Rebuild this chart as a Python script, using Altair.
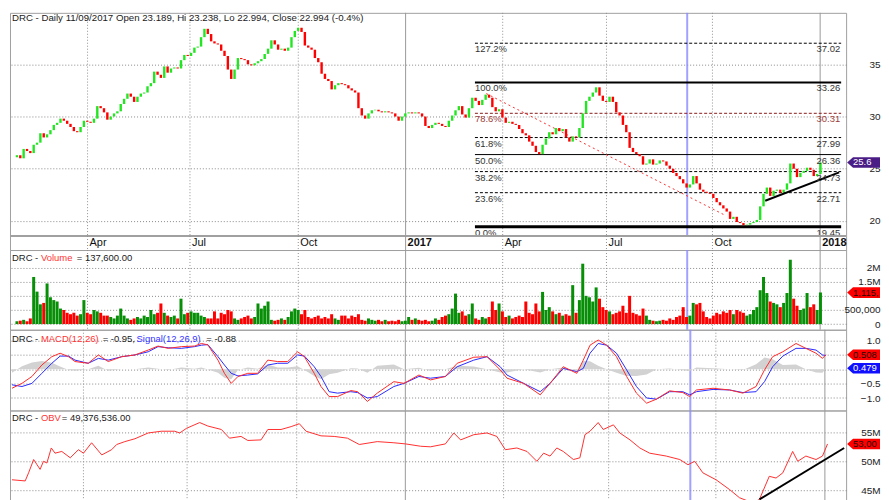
import altair as alt
import pandas as pd

# ---------------- data ----------------
# one candle per ~2 trading days, index 0..240
closes = [
    26.3, 26.0, 26.9, 26.7, 26.5, 27.3, 27.5, 28.4, 28.0, 28.3,
    28.7, 29.2, 29.4, 29.8, 29.6, 29.3, 29.0, 28.6, 28.5, 29.0,
    29.6, 29.5, 29.4, 29.8, 31.0, 30.8, 30.4, 29.7, 30.0, 30.3,
    30.5, 31.2, 31.7, 32.2, 31.9, 31.4, 31.9, 32.2, 32.3, 32.9,
    33.2, 34.3, 34.0, 33.7, 34.8, 34.2, 34.6, 34.7, 34.6, 35.4,
    35.9, 35.8, 36.1, 36.6, 36.7, 37.6, 38.4, 37.9, 37.2, 37.0,
    36.9, 36.3, 35.8, 34.5, 33.6, 34.5, 35.6, 35.5, 35.4, 35.0,
    34.9, 35.1, 35.3, 35.5, 36.0, 36.5, 37.3, 36.9, 36.4, 36.5,
    36.3, 36.6, 37.6, 38.2, 38.5, 38.1, 36.8, 36.6, 36.4, 35.6,
    35.2, 34.1, 33.6, 33.4, 32.6, 33.0, 33.2, 33.1, 33.0, 32.7,
    32.5, 32.3, 30.8, 30.1, 29.8, 30.3, 30.6, 30.65, 30.5, 30.4,
    30.5, 30.4, 30.3, 30.0, 29.6, 30.0, 30.3, 30.4, 30.3, 30.4,
    30.3, 30.0, 29.1, 28.9, 29.2, 29.4, 29.3, 29.1, 29.0, 29.6,
    30.1, 30.6, 31.0, 30.2, 29.9, 30.8, 31.8, 31.5, 31.1, 31.6,
    32.1, 31.8, 30.9, 30.5, 30.7, 29.9, 29.4, 29.5, 29.3, 29.2,
    28.8, 28.4, 28.2, 27.6, 27.2, 26.6, 26.4, 27.3, 27.9, 28.5,
    28.3, 28.9, 28.6, 28.8, 28.0, 27.6, 28.1, 28.0, 28.9, 30.3,
    31.5, 31.9, 32.3, 32.8, 32.0, 31.5, 31.4, 31.9, 31.4, 30.4,
    30.1, 29.2, 28.5, 27.0, 26.6, 26.4, 26.2, 25.4, 25.5, 25.9,
    25.4, 25.5, 25.8, 25.7, 25.3, 25.0, 24.6, 24.3, 24.0, 23.6,
    23.2, 23.5, 24.3, 23.6, 23.0, 22.8, 22.7, 22.6, 22.2, 21.8,
    21.5, 21.2, 20.9, 20.2, 20.4, 19.9, 19.8, 19.6, 19.65, 19.8,
    19.9, 20.1, 21.4, 22.6, 23.2, 22.4, 22.9, 23.0, 22.7, 23.0,
    23.6, 25.5, 25.0, 24.2, 24.6, 24.8, 25.1, 24.9, 24.3, 24.5, 25.6,
]
first_open = 26.1

# volume in millions of shares
volumes_m = [
    0.10, 0.12, 0.15, 0.10, 0.20, 1.67, 1.15, 0.70, 0.75, 1.44,
    0.95, 0.85, 0.80, 0.55, 0.50, 0.40, 0.35, 0.40, 0.30, 0.35,
    0.85, 0.40, 0.35, 0.50, 0.45, 0.40, 0.30, 0.30, 0.25, 0.20,
    0.30, 0.55, 0.30, 0.20, 0.15, 0.20, 0.25, 0.20, 0.30, 0.25,
    0.50, 0.35, 0.40, 0.73, 0.40, 0.30, 0.25, 0.30, 0.20, 0.90,
    0.35, 0.40, 0.45, 0.40, 0.40, 0.30, 0.25, 0.20, 0.20, 0.45,
    0.20, 0.40, 0.35, 0.50, 0.45, 0.20, 0.15, 0.20, 0.25, 0.30,
    0.20, 0.25, 0.73, 0.55, 0.65, 0.80, 0.15, 0.12, 0.15, 0.20,
    0.15, 0.25, 0.45, 0.55, 0.50, 0.35, 0.50, 0.25, 0.20, 0.25,
    0.30, 0.20, 0.25, 0.20, 0.35, 0.20, 0.15, 0.30, 0.30, 0.20,
    0.30, 0.25, 0.35, 0.15, 0.12, 0.20, 0.15, 0.12, 0.15, 0.10,
    0.15, 0.10, 0.12, 0.10, 0.15, 0.10, 0.12, 0.25, 0.15, 0.20,
    0.15, 0.12, 0.15, 0.10, 0.12, 0.20, 0.15, 0.25, 0.30, 0.35,
    0.55, 1.08, 0.40, 0.45, 0.30, 0.35, 0.73, 0.20, 0.15, 0.25,
    0.20, 0.25, 0.80, 0.50, 0.73, 0.45, 0.25, 0.30, 0.20, 0.25,
    0.30, 0.25, 0.80, 0.40, 0.35, 0.73, 0.45, 1.14, 0.50, 0.60,
    0.45, 0.35, 0.40, 0.30, 0.35, 0.30, 1.38, 0.40, 0.85, 2.14,
    1.00, 0.95, 0.80, 1.30, 0.90, 0.60, 0.50, 0.45, 0.35, 0.40,
    0.45, 0.65, 0.40, 1.00, 0.40, 0.35, 0.30, 0.55, 0.30, 0.15,
    0.12, 0.10, 0.12, 0.15, 0.12, 0.20, 0.15, 0.25, 0.30, 0.60,
    0.25, 0.30, 0.75, 0.70, 0.75, 0.45, 0.25, 0.20, 0.30, 0.40,
    0.35, 0.45, 0.40, 0.50, 0.35, 0.50, 0.45, 0.40, 0.30, 0.35,
    0.50, 0.60, 1.20, 1.67, 1.10, 0.80, 0.75, 0.70, 0.60, 0.75,
    1.10, 2.28, 0.90, 0.65, 0.50, 0.55, 1.10, 0.60, 0.70, 0.50, 1.12,
]

macd_x = [0.0, 2.94, 5.88, 8.82, 11.76, 14.2, 16.7, 18.6, 22.5, 25.5,
          28.4, 32.4, 36.3, 40.2, 43.1, 46.1, 50.0, 53.9, 55.9, 57.8,
          60.8, 62.7, 64.7, 66.7, 69.6, 72.5, 75.5, 78.4, 81.4, 84.3,
          86.3, 89.2, 91.2, 93.6, 96.1, 100.0, 102.0, 104.9, 107.8, 112.7,
          115.7, 120.1, 123.5, 127.9, 131.4, 136.3, 140.2, 144.1, 146.1, 151.0,
          155.9, 158.8, 162.7, 166.7, 168.6, 170.6, 173.0, 175.5, 178.4, 181.4,
          184.3, 187.3, 190.2, 194.1, 198.0, 200.0, 202.0, 206.9, 211.8, 215.7,
          219.6, 222.1, 224.5, 227.5, 231.4, 234.3, 237.3, 239.2, 240.2]
macd_line = [-0.66, -0.49, -0.25, 0.15, 0.44, 0.56, 0.44, 0.27, 0.21, 0.50,
             0.27, 0.44, 0.50, 0.67, 0.81, 0.73, 0.79, 0.81, 0.90, 0.85,
             0.32, -0.14, -0.49, -0.25, -0.14, -0.14, 0.32, 0.27, 0.27, 0.61,
             0.44, -0.14, -0.60, -0.95, -0.95, -0.74, -0.78, -1.12, -0.83, -0.43,
             -0.49, -0.20, -0.37, -0.25, 0.21, 0.42, 0.44, -0.02, -0.31, -0.49,
             -0.89, -0.49, 0.09, -0.14, 0.32, 0.84, 1.02, 0.84, 0.44, -0.25,
             -0.83, -1.18, -1.04, -0.75, -0.81, -0.95, -0.72, -0.66, -0.72, -0.83,
             -0.60, -0.02, 0.44, 0.61, 0.90, 0.73, 0.56, 0.38, 0.50887]
signal_line = [-0.54, -0.60, -0.49, -0.14, 0.21, 0.46, 0.46, 0.32, 0.21, 0.38,
               0.32, 0.44, 0.50, 0.61, 0.79, 0.75, 0.73, 0.79, 0.84, 0.86,
               0.44, 0.15, -0.14, -0.23, -0.20, -0.16, 0.15, 0.21, 0.21, 0.50,
               0.46, 0.09, -0.25, -0.78, -0.83, -0.78, -0.81, -1.00, -0.95, -0.60,
               -0.49, -0.25, -0.31, -0.25, 0.09, 0.32, 0.44, 0.09, -0.20, -0.49,
               -0.78, -0.49, 0.03, -0.08, 0.03, 0.56, 0.90, 0.84, 0.56, -0.02,
               -0.60, -1.00, -1.04, -0.78, -0.78, -0.89, -0.78, -0.70, -0.72, -0.81,
               -0.78, -0.43, 0.09, 0.46, 0.73, 0.73, 0.67, 0.50, 0.47982]

obv_x = [0.0, 3.9, 4.9, 6.4, 7.4, 8.3, 9.3, 10.3, 11.6, 12.7,
         14.7, 17.2, 19.6, 21.1, 23.5, 26.5, 29.4, 30.9, 33.3, 36.3,
         40.2, 44.1, 48.0, 49.5, 51.5, 55.4, 57.8, 61.8, 64.2, 67.6,
         69.6, 73.5, 75.5, 79.4, 82.4, 84.8, 86.8, 91.2, 95.1, 99.0,
         102.5, 107.8, 112.7, 116.2, 120.6, 123.5, 127.9, 130.4, 132.4, 136.3,
         140.2, 143.1, 145.6, 149.0, 152.0, 154.9, 156.9, 158.8, 160.8, 162.7,
         165.7, 167.6, 169.1, 170.6, 173.0, 174.5, 177.5, 179.4, 182.4, 185.3,
         188.2, 193.1, 197.1, 199.5, 201.5, 203.9, 207.8, 211.8, 214.7, 218.6,
         220.6, 223.5, 225.5, 227.5, 230.4, 231.9, 234.3, 237.3, 239.2, 240.7]
obv_m = [46.8, 46.6, 48.0, 50.3, 49.4, 48.6, 50.0, 49.7, 52.3, 51.4,
         51.7, 50.6, 52.0, 51.4, 53.2, 51.1, 52.0, 52.9, 53.4, 53.9,
         54.9, 55.2, 55.2, 54.9, 55.7, 56.7, 56.1, 55.5, 54.0, 54.3,
         53.6, 53.7, 55.5, 55.5, 56.0, 56.5, 55.2, 54.4, 54.3, 54.0,
         52.9, 53.4, 53.2, 53.0, 52.6, 52.5, 53.0, 54.9, 53.7, 54.6,
         54.9, 54.3, 52.0, 52.3, 51.7, 50.0, 51.4, 50.9, 52.3, 51.7,
         50.3, 50.6, 54.6, 55.2, 56.7, 55.5, 56.3, 54.9, 53.7, 52.3,
         51.4, 50.9, 50.3, 49.4, 50.0, 48.0, 46.8, 45.1, 43.7, 42.8,
         43.4, 47.4, 47.1, 48.0, 51.7, 50.0, 50.9, 50.3, 50.9, 53.0]

month_pos = [21.09, 51.68, 84.03, 116.09, 145.09, 176.09, 207.74, 239.91]
month_lab = ["Apr", "Jul", "Oct", "2017", "Apr", "Jul", "Oct", "2018"]
month_kind = ["m", "m", "m", "y", "m", "m", "m", "y"]

fib_pct = ["127.2%", "100.0%", "78.6%", "61.8%", "50.0%", "38.2%", "23.6%", "0.0%"]
fib_val = [37.02, 33.26, 30.31, 27.99, 26.36, 24.73, 22.71, 19.45]
fib_lbl = ["37.02", "33.26", "30.31", "27.99", "26.36", "24.73", "22.71", "19.45"]
fib_kind = ["dash", "solid", "dash", "dash", "solid", "dash", "dash", "solid"]
fib_width = [1, 2, 1, 1, 1, 1, 1, 3]
fib_color = ["#000000", "#000000", "#8b1a1a", "#000000", "#000000", "#000000", "#000000", "#000000"]
fib_text_color = ["#333333", "#333333", "#9b3b3b", "#333333", "#333333", "#333333", "#333333", "#333333"]
fib_start = 136.8
fib_end = 246.18

trend_price_x = [223.5, 245.6]
trend_price_y = [21.94, 24.65]
red_diag_x = [140.2, 211.8]
red_diag_y = [32.2, 20.5]
trend_obv_x = [220.6, 245.6]
trend_obv_y = [43.4, 52.3]
cursor_i = 200.2

last_price = 25.6
last_volume_m = 1.11504
last_macd = 0.50887
last_signal = 0.47982
last_obv_m = 53.0072

# ---------------- build ----------------
W = 839
FONT = "Liberation Sans"
NARROW = "Liberation Sans Narrow, Arial Narrow, Liberation Sans"
UP, DOWN, VUP = "#22e622", "#ff0000", "#078f07"
GRID = "#8a8a8a"
X_DOMAIN = [-0.588, 246.18]
PRICE_BOTTOM = 18.56      # bottom of the candle area; below it is the date strip
STRIP_BOTTOM = 17.22
STRIP_LABEL = 17.98       # vertical middle of the date strip

n = len(closes)
opens = [first_open] + closes[:-1]
df = pd.DataFrame({"i": list(range(n)), "open": opens, "close": closes, "vol": volumes_m})
df["ccol"] = [UP if c >= o else DOWN for o, c in zip(opens, closes)]
df["vcol"] = [VUP if c >= o else DOWN for o, c in zip(opens, closes)]

xs = alt.Scale(domain=X_DOMAIN, nice=False, zero=False)


def yaxis(values, label_expr=None):
    kw = dict(orient="right", values=values, grid=True, gridDash=[1, 2], gridColor=GRID,
              domain=False, ticks=False, tickSize=0, labelPadding=34, labelAlign="right",
              labelFontSize=10, labelColor="#222222", title=None, labelFont=FONT,
              labelBound=False, labelFlush=False, labelOverlap=False)
    if label_expr:
        kw["labelExpr"] = label_expr
    return alt.Axis(**kw)


class Panel:
    def __init__(self, yscale, yax):
        self.ys, self.ya = yscale, yax

    def X(self, field="x"):
        return alt.X(f"{field}:Q", scale=xs, axis=None)

    def Y(self, field):
        return alt.Y(f"{field}:Q", scale=self.ys, axis=self.ya)


mdf = pd.DataFrame({"x": month_pos, "lab": month_lab, "kind": month_kind,
                    "y0": PRICE_BOTTOM, "y1": STRIP_BOTTOM, "ly": STRIP_LABEL})


def month_rules(p, cursor=True):
    dotted = alt.Chart(mdf[mdf.kind == "m"]).mark_rule(color="#909090", strokeDash=[1, 2], strokeWidth=1).encode(x=p.X())
    solid = alt.Chart(mdf[mdf.kind == "y"]).mark_rule(color="#9a9a9a", strokeWidth=1).encode(x=p.X())
    out = [dotted, solid]
    if cursor:
        out.append(alt.Chart(pd.DataFrame({"x": [cursor_i]})).mark_rule(
            color="#8a8aff", strokeWidth=2, opacity=0.8).encode(x=p.X()))
    return out


def text_seg(txt, px, py, color="#1a1a1a", size=9.5):
    return alt.Chart(pd.DataFrame({"a": [0]})).mark_text(
        text=txt, align="left", baseline="middle", font=FONT, fontSize=size, color=color
    ).encode(x=alt.value(px), y=alt.value(py))


TAG_PATH = "M-1,0L-0.64,-0.32L1,-0.32L1,0.32L-0.64,0.32Z"


def tag(p, value, color, txt, txt_color, py_pixel=None):
    d = pd.DataFrame({"v": [value], "t": [txt]})
    yenc = alt.value(py_pixel) if py_pixel is not None else p.Y("v")
    shape = alt.Chart(d).mark_point(shape=TAG_PATH, size=1089, filled=True, fill=color, opacity=1,
                                    strokeWidth=0).encode(x=alt.value(856.5), y=yenc)
    label = alt.Chart(d).mark_text(align="left", baseline="middle", font=FONT, fontSize=9.5, color=txt_color,
                                   limit=27, ellipsis="\u200b").encode(x=alt.value(846), y=yenc, text="t:N")
    return [shape, label]


# ---------- price panel (candles + date strip) ----------
py = alt.Scale(domain=[STRIP_BOTTOM, 39.93], nice=False, zero=False)
P = Panel(py, yaxis([20, 25, 30, 35]))

fdf = pd.DataFrame({"x0": [fib_start] * 8, "x1": [fib_end] * 8, "v": fib_val, "pct": fib_pct, "lbl": fib_lbl,
                    "kind": fib_kind, "w": fib_width, "col": fib_color, "tcol": fib_text_color})
fib_dash = alt.Chart(fdf[fdf.kind == "dash"]).mark_rule(strokeDash=[3, 2]).encode(
    x=P.X("x0"), x2="x1:Q", y=P.Y("v"),
    color=alt.Color("col:N", scale=None), strokeWidth=alt.StrokeWidth("w:Q", scale=None))
fib_solid = alt.Chart(fdf[fdf.kind == "solid"]).mark_rule().encode(
    x=P.X("x0"), x2="x1:Q", y=P.Y("v"),
    color=alt.Color("col:N", scale=None), strokeWidth=alt.StrokeWidth("w:Q", scale=None))
fib_left = alt.Chart(fdf).mark_text(align="left", baseline="top", dy=1, font=FONT, fontSize=9.5).encode(
    x=P.X("x0"), y=P.Y("v"), text="pct:N", color=alt.Color("tcol:N", scale=None))
fib_right = alt.Chart(fdf).mark_text(align="right", baseline="top", dy=1, dx=-1, font=FONT, fontSize=9.5).encode(
    x=P.X("x1"), y=P.Y("v"), text="lbl:N", color=alt.Color("tcol:N", scale=None))

red_diag = alt.Chart(pd.DataFrame({"x": red_diag_x, "y": red_diag_y})).mark_line(
    color="#ff3030", strokeDash=[2, 3], strokeWidth=1).encode(x=P.X(), y=P.Y("y"))
trend_p = alt.Chart(pd.DataFrame({"x": trend_price_x, "y": trend_price_y})).mark_line(
    color="#000000", strokeWidth=2).encode(x=P.X(), y=P.Y("y"))

candles = alt.Chart(df).mark_bar(width=2.4).encode(
    x=P.X("i"), y=P.Y("open"), y2="close:Q", color=alt.Color("ccol:N", scale=None))

strip_df = pd.DataFrame({"x0": [X_DOMAIN[0]], "x1": [X_DOMAIN[1]], "y0": [PRICE_BOTTOM], "y1": [STRIP_BOTTOM]})
strip_bg = alt.Chart(strip_df).mark_rect(color="white").encode(x=P.X("x0"), x2="x1:Q", y=P.Y("y0"), y2="y1:Q")
strip_line = alt.Chart(strip_df).mark_rule(color="#a0a0a0", strokeWidth=2).encode(y=P.Y("y0"))
strip_ticks_m = alt.Chart(mdf[mdf.kind == "m"]).mark_rule(color="#909090", strokeDash=[1, 2]).encode(
    x=P.X(), y=P.Y("y0"), y2="y1:Q")
strip_ticks_y = alt.Chart(mdf[mdf.kind == "y"]).mark_rule(color="#9a9a9a").encode(
    x=P.X(), y=P.Y("y0"), y2="y1:Q")
date_m = alt.Chart(mdf[mdf.kind == "m"]).mark_text(
    align="left", baseline="middle", dx=2, dy=1, font=NARROW, fontSize=11, color="#111111").encode(
    x=P.X(), y=P.Y("ly"), text="lab:N")
date_y = alt.Chart(mdf[mdf.kind == "y"]).mark_text(
    align="left", baseline="middle", dx=2, dy=1, font=NARROW, fontSize=11, fontWeight="bold",
    color="#111111").encode(x=P.X(), y=P.Y("ly"), text="lab:N")

price = alt.layer(
    *month_rules(P), fib_dash, fib_solid, red_diag, candles, trend_p, fib_left, fib_right,
    strip_bg, strip_line, strip_ticks_m, strip_ticks_y, date_m, date_y,
    text_seg("DRC - Daily 11/09/2017 Open 23.189, Hi 23.238, Lo 22.994, Close 22.994 (-0.4%)", 2, 5, size=9.7),
    *tag(P, last_price, "#4a1c86", "25.6", "#ffffff"),
).properties(width=W, height=238)

# ---------- volume panel ----------
vy = alt.Scale(domain=[-0.201, 2.625], nice=False, zero=False)
V = Panel(vy, yaxis([0, 0.5, 1, 1.5, 2],
                    "datum.value == 0 ? '0' : datum.value == 0.5 ? '500,000' : datum.value == 1 ? '' : datum.value + 'M'"))
vbars = alt.Chart(df).mark_bar(width=3).encode(
    x=V.X("i"), y=V.Y("vol"), y2=alt.datum(0), color=alt.Color("vcol:N", scale=None))
volume = alt.layer(
    *month_rules(V), vbars,
    text_seg("DRC -", 2, 8), text_seg("Volume", 31, 8, "#ff3333"), text_seg("= 137,600.00", 67, 8),
    *tag(V, last_volume_m, "#ff0000", "1,115,040", "#2a0000"),
).properties(width=W, height=80)

# ---------- MACD panel ----------
my = alt.Scale(domain=[-1.434, 1.378], nice=False, zero=False)
M = Panel(my, yaxis([-1, -0.5, 0, 0.5, 1],
                    "datum.value == 0 || datum.value == 0.5 ? '' : format(datum.value, '.1f')"))
mdf2 = pd.DataFrame({"x": macd_x, "m": macd_line, "s": signal_line})
mdf2["h"] = mdf2["m"] - mdf2["s"]
hist = alt.Chart(mdf2).mark_area(color="#d2d2d2").encode(x=M.X(), y=M.Y("h"), y2=alt.datum(0))
sig = alt.Chart(mdf2).mark_line(color="#2a2aff", strokeWidth=1).encode(x=M.X(), y=M.Y("s"))
mac = alt.Chart(mdf2).mark_line(color="#ff2a2a", strokeWidth=1).encode(x=M.X(), y=M.Y("m"))
macd = alt.layer(
    *month_rules(M), hist, sig, mac,
    text_seg("DRC -", 2, 9), text_seg("MACD(12,26)", 31, 9, "#ff3333"), text_seg("= -0.95,", 93, 9),
    text_seg("Signal(12,26,9)", 127, 9, "#3333ff"), text_seg("= -0.88", 197, 9),
    *tag(M, last_macd, "#ff0000", "0.50887", "#2a0000"),
    *tag(M, last_signal, "#1010ff", "0.47982", "#ffffff", py_pixel=38.7),
).properties(width=W, height=81)

# ---------- OBV panel ----------
oy = alt.Scale(domain=[43.10, 58.79], nice=False, zero=False)
O = Panel(oy, yaxis([45, 50, 55], "datum.value + 'M'"))
odf = pd.DataFrame({"x": obv_x, "v": obv_m})
obv_line = alt.Chart(odf).mark_line(color="#ff3030", strokeWidth=1, clip=True).encode(x=O.X(), y=O.Y("v"))
trend_o = alt.Chart(pd.DataFrame({"x": trend_obv_x, "y": trend_obv_y})).mark_line(
    color="#000000", strokeWidth=2).encode(x=O.X(), y=O.Y("y"))
obv = alt.layer(
    *month_rules(O), obv_line, trend_o,
    text_seg("DRC -", 2, 8), text_seg("OBV", 31, 8, "#ff3333"), text_seg("= 49,376,536.00", 52, 8),
    *tag(O, last_obv_m, "#ff0000", "53,007,236", "#2a0000"),
).properties(width=W, height=91)

chart = alt.vconcat(price, volume, macd, obv, spacing=0, bounds="flush").resolve_scale(
    x="independent", y="independent"
).properties(
    padding={"left": 0, "right": 0, "top": 2, "bottom": 0}
).configure(font=FONT, background="white").configure_view(stroke="#a0a0a0", strokeWidth=1)

chart.save("out.html", embed_options={"renderer": "svg", "actions": False})
